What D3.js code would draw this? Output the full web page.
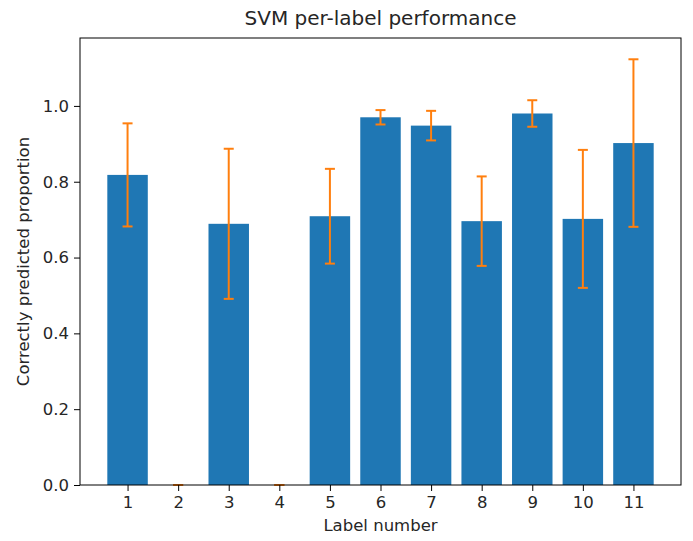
<!DOCTYPE html>
<html>
<head>
<meta charset="utf-8">
<script src="https://cdn.jsdelivr.net/npm/d3@7"></script>
<style>
  html, body { margin: 0; padding: 0; background: #fff; }
  svg text { font-family: "DejaVu Sans", sans-serif; fill: #262626; }
</style>
</head>
<body>
<svg id="chart" width="693" height="541"></svg>
<script>
// Per-label accuracy of the SVM classifier with standard deviation
const labels = [1, 2, 3, 4, 5, 6, 7, 8, 9, 10, 11];
const proportions = [0.818, 0, 0.689, 0, 0.709, 0.970, 0.948, 0.696, 0.980, 0.702, 0.902];
const errors = [0.136, 0, 0.198, 0, 0.125, 0.019, 0.039, 0.118, 0.035, 0.182, 0.221];
const yTicks = [0.0, 0.2, 0.4, 0.6, 0.8, 1.0];

const svg = d3.select("#chart");
const margin = { left: 80, right: 12, top: 38, bottom: 56 };
const W = 693, H = 541;
const plotW = W - margin.left - margin.right;
const plotH = H - margin.top - margin.bottom;

const barWidth = 0.8;
const xMin = labels[0] - barWidth / 2, xMax = labels[labels.length - 1] + barWidth / 2;
const xPad = (xMax - xMin) * 0.05;
const x = d3.scaleLinear().domain([xMin - xPad, xMax + xPad]).range([0, plotW]);

const yTop = d3.max(proportions.map((v, i) => v + errors[i])) * 1.05;
const y = d3.scaleLinear().domain([0, yTop]).range([plotH, 0]);

const g = svg.append("g").attr("transform", `translate(${margin.left},${margin.top})`);

// bars
g.selectAll("rect.bar").data(labels).enter().append("rect")
  .attr("class", "bar")
  .attr("x", (d) => x(d - barWidth / 2))
  .attr("width", (d) => x(d + barWidth / 2) - x(d - barWidth / 2))
  .attr("y", (d, i) => y(proportions[i]))
  .attr("height", (d, i) => y(0) - y(proportions[i]))
  .attr("fill", "#1f77b4");

// error bars
const orange = "#ff7f0e";
const cap = 5;
const eb = g.selectAll("g.err").data(labels).enter().append("g").attr("class", "err");
eb.append("line")
  .attr("x1", (d) => x(d)).attr("x2", (d) => x(d))
  .attr("y1", (d, i) => y(proportions[i] - errors[i]))
  .attr("y2", (d, i) => y(proportions[i] + errors[i]))
  .attr("stroke", orange).attr("stroke-width", 2);
eb.append("line")
  .attr("x1", (d) => x(d) - cap).attr("x2", (d) => x(d) + cap)
  .attr("y1", (d, i) => y(proportions[i] + errors[i]))
  .attr("y2", (d, i) => y(proportions[i] + errors[i]))
  .attr("stroke", orange).attr("stroke-width", 2);
eb.append("line")
  .attr("x1", (d) => x(d) - cap).attr("x2", (d) => x(d) + cap)
  .attr("y1", (d, i) => y(proportions[i] - errors[i]))
  .attr("y2", (d, i) => y(proportions[i] - errors[i]))
  .attr("stroke", orange).attr("stroke-width", 2);

// axes
const xAxis = d3.axisBottom(x).tickValues(labels).tickFormat(d3.format("d")).tickSize(6).tickPadding(5);
const yAxis = d3.axisLeft(y).tickValues(yTicks).tickFormat(d3.format(".1f")).tickSize(6).tickPadding(5);

const gx = g.append("g").attr("transform", `translate(0,${plotH})`).call(xAxis);
const gy = g.append("g").call(yAxis);
[gx, gy].forEach((a) => {
  a.select(".domain").remove();
  a.selectAll(".tick line").attr("stroke", "#000").attr("stroke-width", 1);
  a.selectAll(".tick text").style("font-size", "16.5px").attr("fill", "#262626");
});

// frame
g.append("rect").attr("x", 0).attr("y", 0).attr("width", plotW).attr("height", plotH)
  .attr("fill", "none").attr("stroke", "#000").attr("stroke-width", 1);

// titles
svg.append("text").attr("x", margin.left + plotW / 2).attr("y", 25)
  .attr("text-anchor", "middle").style("font-size", "20px").text("SVM per-label performance");
svg.append("text").attr("x", margin.left + plotW / 2).attr("y", 531)
  .attr("text-anchor", "middle").style("font-size", "16.5px").text("Label number");
svg.append("text")
  .attr("transform", `translate(29,${margin.top + plotH / 2}) rotate(-90)`)
  .attr("text-anchor", "middle").style("font-size", "16.5px").text("Correctly predicted proportion");
</script>
</body>
</html>
